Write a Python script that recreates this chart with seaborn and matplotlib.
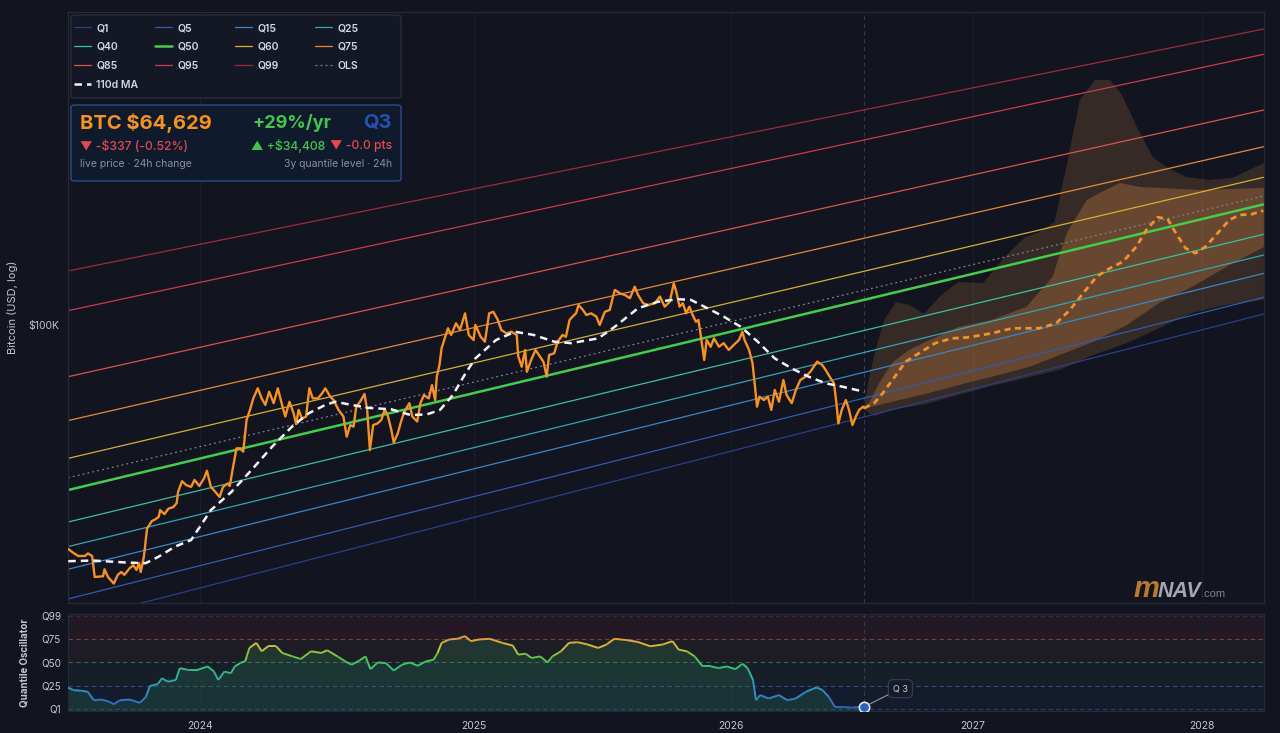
import numpy as np
import pandas as pd
import matplotlib
matplotlib.use('Agg')
import matplotlib.pyplot as plt
import seaborn as sns
from matplotlib.collections import LineCollection
from matplotlib.colors import LinearSegmentedColormap, Normalize
from matplotlib.patches import FancyBboxPatch
from matplotlib.ticker import FixedLocator, FixedFormatter, NullLocator

# ---------------- data (time in decimal years, prices in USD thousands) ----------------
price_t = [2023.539, 2023.556, 2023.573, 2023.596, 2023.607, 2023.621, 2023.630, 2023.659, 2023.664, 2023.676,
           2023.696, 2023.710, 2023.722, 2023.733, 2023.750, 2023.764, 2023.775, 2023.784, 2023.790, 2023.801,
           2023.812, 2023.829, 2023.841, 2023.853, 2023.858, 2023.873, 2023.887, 2023.904, 2023.916, 2023.921,
           2023.935, 2023.950, 2023.967, 2023.979, 2023.996, 2024.013, 2024.023, 2024.037, 2024.050, 2024.068,
           2024.080, 2024.098, 2024.104, 2024.116, 2024.128, 2024.140, 2024.152, 2024.164, 2024.176, 2024.188,
           2024.204, 2024.218, 2024.231, 2024.245, 2024.261, 2024.276, 2024.293, 2024.303, 2024.318, 2024.333,
           2024.342, 2024.351, 2024.363, 2024.378, 2024.390, 2024.402, 2024.421, 2024.436, 2024.448, 2024.466,
           2024.478, 2024.496, 2024.514, 2024.526, 2024.539, 2024.551, 2024.561, 2024.575, 2024.591, 2024.601,
           2024.611, 2024.623, 2024.639, 2024.653, 2024.666, 2024.678, 2024.690, 2024.699, 2024.714, 2024.726,
           2024.738, 2024.757, 2024.768, 2024.786, 2024.798, 2024.811, 2024.829, 2024.841, 2024.853, 2024.859,
           2024.869, 2024.877, 2024.889, 2024.901, 2024.913, 2024.931, 2024.946, 2024.965, 2024.979, 2024.997,
           2025.004, 2025.024, 2025.040, 2025.056, 2025.072, 2025.089, 2025.102, 2025.122, 2025.141, 2025.161,
           2025.167, 2025.180, 2025.193, 2025.200, 2025.216, 2025.233, 2025.246, 2025.263, 2025.276, 2025.285,
           2025.305, 2025.318, 2025.337, 2025.350, 2025.364, 2025.376, 2025.389, 2025.399, 2025.416, 2025.429,
           2025.448, 2025.468, 2025.481, 2025.501, 2025.520, 2025.533, 2025.540, 2025.560, 2025.579, 2025.599,
           2025.618, 2025.631, 2025.651, 2025.671, 2025.697, 2025.717, 2025.736, 2025.756, 2025.772, 2025.782,
           2025.795, 2025.808, 2025.821, 2025.834, 2025.847, 2025.860, 2025.870, 2025.880, 2025.893, 2025.903,
           2025.919, 2025.932, 2025.952, 2025.971, 2025.991, 2026.011, 2026.032, 2026.046, 2026.055, 2026.073,
           2026.087, 2026.097, 2026.105, 2026.115, 2026.133, 2026.149, 2026.163, 2026.177, 2026.194, 2026.212,
           2026.225, 2026.246, 2026.263, 2026.281, 2026.302, 2026.322, 2026.350, 2026.371, 2026.385, 2026.405,
           2026.419, 2026.429, 2026.437, 2026.451, 2026.468, 2026.481, 2026.495, 2026.509, 2026.523, 2026.539,
           2026.544]
price_k = [30.8, 30.2, 29.7, 29.7, 30.1, 29.7, 26.6, 26.7, 27.7, 26.6,
           25.7, 26.9, 27.3, 26.9, 27.8, 28.3, 27.6, 28.6, 27.3, 29.6,
           34.3, 35.7, 36.0, 36.5, 37.8, 37.0, 38.1, 38.4, 39.2, 41.6,
           44.0, 43.1, 42.7, 44.3, 42.9, 44.7, 46.5, 42.7, 41.8, 40.5,
           42.7, 43.5, 42.9, 47.5, 52.3, 52.3, 51.4, 60.7, 64.0, 68.0,
           71.7, 68.0, 65.7, 70.4, 66.3, 71.7, 65.1, 61.8, 66.8, 62.9,
           59.4, 64.0, 61.2, 61.8, 71.7, 68.0, 68.0, 69.8, 71.7, 68.6,
           67.4, 64.0, 61.8, 55.6, 59.1, 58.6, 65.1, 66.8, 69.6, 64.0,
           51.8, 59.1, 59.6, 60.7, 64.2, 61.8, 57.6, 53.9, 56.6, 60.2,
           63.4, 66.3, 61.8, 60.2, 66.3, 69.2, 68.0, 72.9, 67.4, 76.2,
           81.0, 88.5, 93.2, 98.3, 94.9, 100.9, 97.4, 106.3, 94.9, 92.4,
           100.0, 94.0, 91.6, 106.3, 107.2, 102.7, 97.4, 95.7, 96.5, 94.9,
           84.7, 80.3, 87.7, 78.2, 83.2, 87.7, 85.4, 82.5, 76.2, 85.4,
           86.2, 91.6, 94.9, 94.0, 102.7, 104.5, 106.3, 111.1, 108.2, 105.4,
           106.3, 104.5, 100.0, 107.2, 108.2, 116.1, 120.2, 118.1, 117.1, 115.1,
           122.3, 117.1, 112.1, 111.1, 112.1, 116.1, 110.1, 113.0, 124.5, 119.1,
           110.1, 112.1, 106.3, 110.1, 105.4, 101.7, 102.7, 94.0, 83.2, 92.4,
           89.2, 93.2, 89.2, 90.9, 87.7, 90.0, 92.4, 96.5, 92.4, 87.7,
           81.8, 72.3, 65.1, 68.6, 67.4, 68.6, 64.0, 71.1, 66.8, 74.9,
           69.2, 66.3, 71.1, 74.9, 76.2, 78.2, 82.5, 81.0, 78.9, 75.6,
           73.6, 66.3, 59.6, 64.0, 67.4, 64.0, 59.1, 61.8, 64.0, 65.1,
           64.629]

ma_t = [2023.539, 2023.625, 2023.739, 2023.807, 2023.853, 2023.910, 2023.967, 2024.037, 2024.110, 2024.182,
        2024.255, 2024.327, 2024.388, 2024.448, 2024.484, 2024.544, 2024.605, 2024.690, 2024.762, 2024.822,
        2024.871, 2024.919, 2024.967, 2025.004, 2025.082, 2025.154, 2025.226, 2025.305, 2025.370, 2025.475,
        2025.540, 2025.631, 2025.710, 2025.788, 2025.840, 2025.906, 2025.971, 2026.039, 2026.108, 2026.177,
        2026.246, 2026.315, 2026.385, 2026.454, 2026.544]
ma_k = [28.9, 29.0, 28.7, 28.6, 29.6, 31.2, 32.3, 37.8, 41.6, 46.7,
        52.7, 58.6, 62.9, 65.7, 66.8, 65.7, 64.7, 64.2, 62.3, 62.5,
        64.0, 69.2, 77.6, 83.9, 92.4, 96.5, 94.9, 91.6, 90.9, 93.2,
        99.1, 109.2, 113.0, 114.5, 114.1, 109.2, 104.5, 99.1, 91.6, 83.9,
        79.6, 76.2, 73.6, 72.3, 70.4]

# forecast median and fan bands
fc_t = [2026.544, 2026.585, 2026.620, 2026.661, 2026.717, 2026.772, 2026.841, 2026.910, 2026.979, 2027.080,
        2027.168, 2027.285, 2027.358, 2027.417, 2027.475, 2027.534, 2027.592, 2027.650, 2027.709, 2027.753,
        2027.804, 2027.848, 2027.885, 2027.928, 2027.972, 2028.017, 2028.071, 2028.124, 2028.171, 2028.225,
        2028.278]
fc_mid = [64.6, 66.3, 69.8, 74.9, 82.5, 86.2, 90.9, 93.2, 93.7, 95.7,
          98.3, 98.3, 100.9, 108.2, 118.1, 128.9, 134.7, 139.5, 150.9, 164.8,
          176.2, 174.3, 161.9, 149.7, 145.8, 150.9, 161.9, 173.7, 178.3, 179.0,
          182.4]
outer_hi_t = [2026.544, 2026.564, 2026.593, 2026.627, 2026.676, 2026.730, 2026.793, 2026.867, 2026.938, 2027.044,
              2027.132, 2027.219, 2027.285, 2027.351, 2027.404, 2027.461, 2027.526, 2027.592, 2027.645, 2027.711,
              2027.781, 2027.842, 2027.930, 2028.032, 2028.138, 2028.281]
outer_hi_k = [65.0, 75.7, 88.6, 102.7, 112.8, 111.1, 106.0, 117.1, 125.3, 124.7,
              142.2, 158.0, 163.0, 171.9, 231.9, 326.3, 362.5, 362.5, 335.0, 283.1,
              241.8, 229.4, 217.7, 214.3, 216.6, 234.3]
outer_lo_t = [2026.544, 2026.585, 2026.660, 2026.801, 2026.938, 2027.079, 2027.228, 2027.373, 2027.518, 2027.667,
              2027.811, 2027.956, 2028.111, 2028.281]
outer_lo_k = [64.0, 62.0, 64.0, 66.0, 69.2, 72.6, 75.7, 79.0, 85.4, 90.9,
              98.4, 106.5, 111.1, 114.1]
inner_hi_t = [2026.544, 2026.564, 2026.606, 2026.660, 2026.730, 2026.801, 2026.938, 2027.079, 2027.228, 2027.342,
              2027.404, 2027.491, 2027.548, 2027.636, 2027.724, 2027.987, 2028.281]
inner_hi_k = [65.0, 66.4, 73.7, 81.9, 87.7, 91.5, 99.0, 102.7, 109.9, 128.7,
              162.2, 192.9, 200.2, 210.9, 206.6, 203.3, 205.5]
inner_lo_t = [2026.544, 2026.606, 2026.689, 2026.813, 2026.938, 2027.110, 2027.241, 2027.373, 2027.518, 2027.667,
              2027.811, 2027.956, 2028.111, 2028.281]
inner_lo_k = [64.6, 65.7, 67.4, 69.9, 72.9, 76.9, 80.2, 85.4, 91.5, 100.0,
              112.3, 122.1, 135.7, 150.7]

# quantile power-law lines: value at the left edge and at the right edge
q_names = ['Q1', 'Q5', 'Q15', 'Q25', 'Q40', 'Q50', 'Q60', 'Q75', 'Q85', 'Q95', 'Q99', 'OLS']
q_left_k = [21.0, 23.7, 27.7, 31.2, 35.5, 42.0, 49.6, 60.5, 76.2, 107.8, 132.8, 44.8]
q_right_k = [106.0, 115.7, 131.2, 144.5, 161.1, 188.6, 217.4, 255.3, 309.6, 414.9, 473.9, 197.0]
q_colors = ['#2b3f8a', '#2f5cb0', '#3a86c8', '#33a5b8', '#3cbfa2', '#3fcf4c', '#d6b02e', '#e58a38',
            '#d9544a', '#c93c4e', '#a02a3c', '#7d8394']

osc_t = [2023.536, 2023.557, 2023.584, 2023.606, 2023.627, 2023.654, 2023.682, 2023.696, 2023.717, 2023.752,
         2023.787, 2023.808, 2023.822, 2023.850, 2023.864, 2023.885, 2023.913, 2023.927, 2023.955, 2023.990,
         2024.026, 2024.048, 2024.063, 2024.085, 2024.108, 2024.122, 2024.145, 2024.159, 2024.174, 2024.199,
         2024.218, 2024.241, 2024.270, 2024.292, 2024.329, 2024.359, 2024.396, 2024.433, 2024.455, 2024.492,
         2024.521, 2024.544, 2024.573, 2024.595, 2024.613, 2024.640, 2024.670, 2024.699, 2024.729, 2024.758,
         2024.788, 2024.818, 2024.847, 2024.862, 2024.877, 2024.906, 2024.936, 2024.965, 2024.987, 2025.018,
         2025.058, 2025.106, 2025.146, 2025.167, 2025.195, 2025.218, 2025.251, 2025.279, 2025.298, 2025.331,
         2025.362, 2025.395, 2025.435, 2025.475, 2025.507, 2025.538, 2025.587, 2025.631, 2025.679, 2025.727,
         2025.767, 2025.791, 2025.824, 2025.855, 2025.887, 2025.920, 2025.951, 2025.984, 2026.017, 2026.047,
         2026.067, 2026.089, 2026.101, 2026.118, 2026.152, 2026.194, 2026.228, 2026.262, 2026.304, 2026.347,
         2026.372, 2026.397, 2026.423, 2026.457, 2026.490, 2026.541]
osc_q = [23.4, 20.6, 19.9, 18.8, 9.9, 10.6, 8.1, 5.6, 9.9, 10.6,
         7.1, 13.5, 24.9, 27.0, 33.1, 29.5, 31.3, 43.8, 42.0, 42.0,
         45.6, 40.2, 31.3, 40.2, 38.4, 45.6, 49.8, 50.9, 65.1, 70.5,
         61.6, 66.9, 66.9, 59.8, 56.2, 53.4, 61.6, 59.8, 62.7, 56.2,
         50.9, 47.3, 52.0, 56.2, 42.7, 49.8, 49.1, 41.3, 47.3, 49.8,
         46.3, 50.9, 52.7, 59.8, 70.5, 74.1, 74.8, 77.6, 72.3, 74.1,
         74.8, 70.5, 67.6, 58.0, 59.1, 54.5, 56.2, 49.8, 56.2, 61.6,
         70.5, 71.2, 68.7, 65.1, 68.7, 74.8, 73.4, 71.4, 66.9, 68.7,
         72.3, 63.4, 61.6, 56.2, 45.6, 45.6, 43.8, 45.6, 42.7, 48.4,
         43.8, 31.3, 9.9, 15.3, 11.7, 15.3, 9.9, 11.7, 18.8, 23.4,
         20.6, 13.5, 2.8, 2.8, 2.1, 3.0]

x_start, x_end, now_t = 2023.538, 2028.281, 2026.544
years = [2024, 2025, 2026, 2027, 2028]
osc_levels = [1, 25, 50, 75, 99]

GENESIS = pd.Timestamp('2009-01-03')


def to_days(ts):
    # decimal year -> days since the genesis block (the chart's log-time axis)
    out = []
    for t in np.atleast_1d(ts):
        y0 = int(np.floor(t))
        start = pd.Timestamp(f'{y0}-01-01')
        span = (pd.Timestamp(f'{y0 + 1}-01-01') - start).days
        out.append((start - GENESIS).days + (t - y0) * span)
    return np.array(out, dtype=float)


BG = '#12141f'
SPINE = '#252a39'
TXT = '#c3c7d2'

sns.set_theme(style='dark', rc={
    'figure.facecolor': BG, 'axes.facecolor': BG, 'axes.edgecolor': SPINE,
    'text.color': TXT, 'axes.labelcolor': TXT, 'xtick.color': TXT, 'ytick.color': TXT,
    'axes.grid': False, 'axes.linewidth': 0.9})
plt.rcParams['font.family'] = ['Inter', 'DejaVu Sans']

W, H = 1280, 733
fig = plt.figure(figsize=(W / 100, H / 100), dpi=100)
ax = fig.add_axes([68 / W, 1 - 603 / H, 1196 / W, 591 / H])
axo = fig.add_axes([68 / W, 1 - 711 / H, 1196 / W, 97 / H], sharex=ax)

d_left, d_right = to_days([x_start, x_end])
now_d = to_days(now_t)[0]

# quantile channel
handles = {}
for name, lo, hi, col in zip(q_names, q_left_k, q_right_k, q_colors):
    lw = 1.8 if name == 'Q50' else 0.9
    ls = (0, (1.5, 2.5)) if name == 'OLS' else '-'
    sns.lineplot(x=[d_left, d_right], y=[lo * 1e3, hi * 1e3], ax=ax, color=col,
                 linewidth=lw, linestyle=ls, estimator=None, zorder=2)
    handles[name] = ax.lines[-1]

# forecast fan
def band(t_hi, k_hi, t_lo, k_lo, color, alpha):
    xs = np.concatenate([to_days(t_hi), to_days(t_lo)[::-1]])
    ys = np.concatenate([np.array(k_hi), np.array(k_lo)[::-1]]) * 1e3
    ax.fill(xs, ys, color=color, alpha=alpha, lw=0, zorder=1)

band(outer_hi_t, outer_hi_k, outer_lo_t, outer_lo_k, '#c98445', 0.20)
band(inner_hi_t, inner_hi_k, inner_lo_t, inner_lo_k, '#d98c44', 0.30)

sns.lineplot(x=to_days(fc_t), y=np.array(fc_mid) * 1e3, ax=ax, color='#f0932b', linewidth=2.0,
             linestyle=(0, (2.2, 1.6)), estimator=None, zorder=4)

# price and moving average
sns.lineplot(x=to_days(price_t), y=np.array(price_k) * 1e3, ax=ax, color='#f7931a',
             linewidth=1.7, estimator=None, zorder=4)
sns.lineplot(x=to_days(ma_t), y=np.array(ma_k) * 1e3, ax=ax, color='#f2f3f5',
             linewidth=1.8, linestyle=(0, (3, 2)), estimator=None, zorder=5)
handles['110d MA'] = ax.lines[-1]

ax.axvline(now_d, color='#353b4d', lw=0.8, ls=(0, (4, 3)), zorder=1)

ax.set_xscale('log')
ax.set_yscale('log')
ax.set_xlim(d_left, d_right)
ax.set_ylim(23.2e3, 518e3)
ax.yaxis.set_major_locator(FixedLocator([1e5]))
ax.yaxis.set_major_formatter(FixedFormatter(['$100K']))
ax.yaxis.set_minor_locator(NullLocator())
year_days = to_days(years)
ax.xaxis.set_major_locator(FixedLocator(year_days))
ax.xaxis.set_minor_locator(NullLocator())
ax.grid(axis='x', color='#1b1f2d', lw=0.8)
ax.tick_params(axis='y', length=0, pad=6, labelsize=7.5)
ax.tick_params(axis='x', length=0, labelbottom=False)
ax.set_ylabel('Bitcoin (USD, log)', fontsize=8)
ax.yaxis.set_label_coords(-0.042, 0.5)
for s in ax.spines.values():
    s.set_color(SPINE)

# ---------------- quantile oscillator ----------------
axo.axhspan(75, 101, color='#221925', lw=0, zorder=0)
axo.axhspan(50, 75, color='#1e1d25', lw=0, zorder=0)
axo.axhspan(25, 50, color='#161e2a', lw=0, zorder=0)
axo.axhspan(-1.5, 25, color='#141b2d', lw=0, zorder=0)
for lvl, c in zip(osc_levels, ['#2a3f66', '#2f4d78', '#3a6a4c', '#7a4236', '#4d2633']):
    axo.axhline(lvl, color=c, lw=0.8, ls=(0, (4, 3)), zorder=1)

osc_d = to_days(osc_t)
osc_v = np.array(osc_q)
axo.fill_between(osc_d, osc_v, -1.5, color='#2f8f5a', alpha=0.22, lw=0, zorder=2)
cmap = LinearSegmentedColormap.from_list('osc', [
    (0.0, '#2f5fb8'), (0.15, '#3584c9'), (0.3, '#2aa9a9'), (0.45, '#35c07a'),
    (0.55, '#5cc542'), (0.65, '#c6c23a'), (0.72, '#e3a935'), (0.8, '#f08a30'), (1.0, '#e8523a')])
pts = np.column_stack([osc_d, osc_v])
segs = np.stack([pts[:-1], pts[1:]], axis=1)
lc = LineCollection(segs, cmap=cmap, norm=Normalize(0, 100), linewidths=1.4, zorder=3)
lc.set_array((osc_v[:-1] + osc_v[1:]) / 2)
axo.add_collection(lc)
sns.scatterplot(x=[now_d], y=[osc_v[-1]], ax=axo, s=55, color='#2f5fb8', edgecolor='#dfe6f5',
                linewidth=1.2, zorder=6)
axo.annotate('Q 3', xy=(now_d, osc_v[-1]), xytext=(26, 13), textcoords='offset points',
             fontsize=6.5, color='#c9cdd8', ha='center', va='center', zorder=7,
             bbox=dict(boxstyle='round,pad=0.5', fc='#171b29', ec='#3a4052', lw=0.8),
             arrowprops=dict(arrowstyle='-', color='#9097a8', lw=0.8, shrinkA=0, shrinkB=4))
axo.axvline(now_d, color='#353b4d', lw=0.8, ls=(0, (4, 3)), zorder=1)

axo.set_ylim(-1.5, 101)
axo.yaxis.set_major_locator(FixedLocator(osc_levels))
axo.yaxis.set_major_formatter(FixedFormatter([f'Q{v}' for v in osc_levels]))
axo.xaxis.set_major_formatter(FixedFormatter([str(y) for y in years]))
axo.xaxis.set_minor_locator(NullLocator())
axo.grid(axis='x', color='#1b1f2d', lw=0.8)
axo.tick_params(axis='y', length=0, pad=5, labelsize=7.2)
axo.tick_params(axis='x', length=3, width=0.8, color='#5a6070', pad=4, labelsize=7.5)
axo.set_ylabel('Quantile Oscillator', fontsize=7, fontweight='bold')
axo.yaxis.set_label_coords(-0.032, 0.5)
axo.set_xlabel('Date (log time scale)', fontsize=8, labelpad=3)
for s in axo.spines.values():
    s.set_color(SPINE)


# ---------------- legend & info card ----------------
def fx(x):
    return x / W


def fy(y):
    return 1 - y / H


fig.add_artist(FancyBboxPatch((fx(71), fy(98)), 330 / W, 83 / H, transform=fig.transFigure,
                              boxstyle='round,pad=0,rounding_size=0.003', fc='#141824',
                              ec='#2a2f3f', lw=0.9, zorder=1))
columns = [['Q1', 'Q40', 'Q85', '110d MA'], ['Q5', 'Q50', 'Q95'], ['Q15', 'Q60', 'Q99'], ['Q25', 'Q75', 'OLS']]
for cx, names in zip([74, 155, 235, 315], columns):
    leg = fig.legend([handles[n] for n in names], names, loc='upper left',
                     bbox_to_anchor=(fx(cx), fy(23)), frameon=False,
                     prop={'size': 7.5, 'weight': 'semibold'}, labelcolor='#d4d8e2',
                     handlelength=1.65, handletextpad=0.5, labelspacing=0.86,
                     borderpad=0, borderaxespad=0)

fig.add_artist(FancyBboxPatch((fx(71), fy(181)), 330 / W, 76 / H, transform=fig.transFigure,
                              boxstyle='round,pad=0,rounding_size=0.003', fc='#0f1a2c',
                              ec='#2a4d8c', lw=1.0, zorder=1))
RED, GREEN, GREY = '#e5484d', '#3cc84a', '#8a90a0'
fig.text(fx(80), fy(123), 'BTC $64,629', color='#f7931a', fontsize=14.5, fontweight='bold', va='center', zorder=3)
fig.text(fx(252), fy(123), '+29%/yr', color=GREEN, fontsize=13, fontweight='bold', va='center', zorder=3)
fig.text(fx(392), fy(123), 'Q3', color='#2652ad', fontsize=14.5, fontweight='bold', va='center', ha='right', zorder=3)
fig.text(fx(80), fy(146), '▼ -$337 (-0.52%)', color=RED, fontsize=8.8, fontweight='medium', va='center', zorder=3)
fig.text(fx(325), fy(146), '▲ +$34,408', color=GREEN, fontsize=8.8, fontweight='medium', va='center', ha='right', zorder=3)
fig.text(fx(392), fy(146), '▼ -0.0 pts', color=RED, fontsize=8.8, fontweight='medium', va='center', ha='right', zorder=3)
fig.text(fx(80), fy(164), 'live price · 24h change', color=GREY, fontsize=7.5, va='center', zorder=3)
fig.text(fx(392), fy(164), '3y quantile level · 24h', color=GREY, fontsize=7.5, va='center', ha='right', zorder=3)

# watermark
r = fig.canvas.get_renderer()
t1 = fig.text(fx(1133), fy(597), 'm', color='#b97a2c', fontsize=21, fontweight='bold', fontstyle='italic',
              family='Liberation Sans', va='baseline', zorder=3)
x1 = t1.get_window_extent(r).x1
t2 = fig.text(x1 / W - 0.001, fy(597), 'NAV', color='#a3a7b1', fontsize=15.5, fontweight='bold',
              fontstyle='italic', family='Liberation Sans', va='baseline', zorder=3)
x2 = t2.get_window_extent(r).x1
fig.text(x2 / W, fy(597), '.com', color='#7d8290', fontsize=8, family='Liberation Sans', va='baseline', zorder=3)

fig.savefig('out.png', dpi=100, facecolor=BG)
